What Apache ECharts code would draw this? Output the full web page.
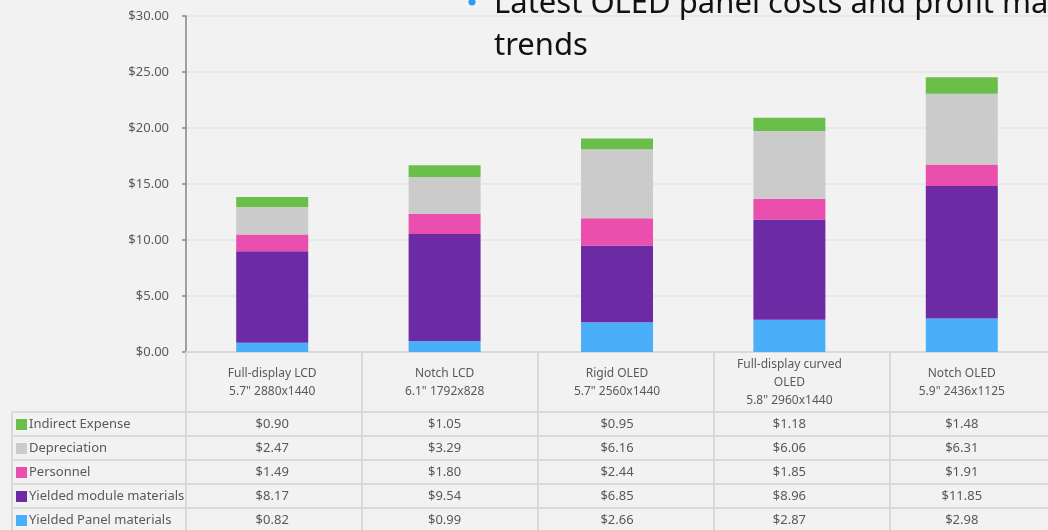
<!DOCTYPE html>
<html>
<head>
<meta charset="utf-8">
<script src="https://cdn.jsdelivr.net/npm/echarts@6/dist/echarts.min.js"></script>
<style>
html,body{margin:0;padding:0;background:#f2f2f2;}
#c{width:1048px;height:530px;}
</style>
</head>
<body>
<div id="c"></div>
<script>
const categories = ['Full-display LCD\n5.7" 2880x1440', 'Notch LCD\n6.1" 1792x828', 'Rigid OLED\n5.7" 2560x1440', 'Full-display curved\nOLED\n5.8" 2960x1440', 'Notch OLED\n5.9" 2436x1125'];
const indirectExpense = [0.90, 1.05, 0.95, 1.18, 1.48];
const depreciation = [2.47, 3.29, 6.16, 6.06, 6.31];
const personnel = [1.49, 1.80, 2.44, 1.85, 1.91];
const yieldedModule = [8.17, 9.54, 6.85, 8.96, 11.85];
const yieldedPanel = [0.82, 0.99, 2.66, 2.87, 2.98];
const seriesNames = ['Indirect Expense', 'Depreciation', 'Personnel', 'Yielded module materials', 'Yielded Panel materials'];
const seriesColors = ['#6abf4b', '#cbcbcb', '#ea4fae', '#6d2aa5', '#4aaef9'];
const titleLine1 = 'Latest OLED panel costs and profit margin';
const titleLine2 = 'trends';
const yMin = 0, yMax = 30, yStep = 5;

const rows = [indirectExpense, depreciation, personnel, yieldedModule, yieldedPanel];

const G = {left: 186, top: 16, colW: 176, height: 336};
const gridW = G.colW * categories.length;
const axisY = G.top + G.height;      // 352
const headerH = 60;
const rowH = 24;
const tableTop = axisY + headerH;    // 412
const tableLeft = 12;
const textColor = '#595959';
const lineColor = '#d9d9d9';
const font = '"Noto Sans", sans-serif';

const chart = echarts.init(document.getElementById('c'));

const xAxes = [{
  type: 'category', gridIndex: 0, data: categories, position: 'bottom',
  axisLine: {show: true, lineStyle: {color: lineColor, width: 2}},
  axisTick: {show: false},
  axisLabel: {color: textColor, fontSize: 12, fontFamily: font, lineHeight: 18, margin: headerH / 2 + 1, verticalAlign: 'middle', interval: 0}
}];
rows.forEach((vals, r) => {
  xAxes.push({
    type: 'category', gridIndex: 0, data: categories, position: 'bottom',
    offset: headerH + rowH * r + rowH / 2,
    axisLine: {show: false}, axisTick: {show: false}, splitLine: {show: false},
    axisLabel: {color: textColor, fontSize: 13, fontFamily: font, margin: 0, verticalAlign: 'middle', interval: 0,
      formatter: (v, i) => '$' + vals[i].toFixed(2)}
  });
});

const stackOrder = [4, 3, 2, 1, 0];
const series = stackOrder.map(k => ({
  name: seriesNames[k], type: 'bar', stack: 'cost', xAxisIndex: 0, yAxisIndex: 0,
  data: rows[k], barWidth: 72,
  itemStyle: {color: seriesColors[k]},
  emphasis: {disabled: true}
}));

const graphics = [];
// table borders
const bottom = 532;
for (let i = 0; i <= categories.length; i++) {
  const x = G.left + G.colW * i;
  graphics.push({type: 'line', shape: {x1: x, y1: axisY, x2: x, y2: bottom}, style: {stroke: lineColor, lineWidth: 2}, z: 1});
}
graphics.push({type: 'line', shape: {x1: tableLeft, y1: tableTop, x2: tableLeft, y2: bottom}, style: {stroke: lineColor, lineWidth: 2}, z: 1});
for (let r = 0; r <= rows.length; r++) {
  const y = tableTop + rowH * r;
  graphics.push({type: 'line', shape: {x1: tableLeft, y1: y, x2: G.left + gridW, y2: y}, style: {stroke: lineColor, lineWidth: 2}, z: 1});
}
// legend column
seriesNames.forEach((n, r) => {
  const cy = tableTop + rowH * r + rowH / 2;
  graphics.push({type: 'rect', shape: {x: 16, y: cy - 5, width: 11, height: 11}, style: {fill: seriesColors[r]}, z: 2});
  graphics.push({type: 'text', x: 29, y: cy, style: {text: n, fill: textColor, font: '13px ' + font, verticalAlign: 'middle', align: 'left'}, z: 2});
});
// title overlay
graphics.push({type: 'circle', shape: {cx: 472, cy: 2, r: 3.5}, style: {fill: '#2d9cf5'}, z: 10});
graphics.push({type: 'text', x: 494, y: 20, style: {text: titleLine1, fill: '#111', font: '31px ' + font, verticalAlign: 'bottom', align: 'left'}, z: 10});
graphics.push({type: 'text', x: 494, y: 62, style: {text: titleLine2, fill: '#111', font: '31px ' + font, verticalAlign: 'bottom', align: 'left'}, z: 10});

chart.setOption({
  backgroundColor: '#f2f2f2',
  animation: false,
  grid: [{left: G.left, top: G.top, width: gridW, height: G.height, containLabel: false}],
  xAxis: xAxes,
  yAxis: [{
    type: 'value', gridIndex: 0, min: yMin, max: yMax, interval: yStep,
    axisLine: {show: true, lineStyle: {color: '#858585', width: 1.5}},
    axisTick: {show: true, length: 4, lineStyle: {color: '#858585', width: 1.5}},
    axisLabel: {color: textColor, fontSize: 13, fontFamily: font, margin: 17, formatter: v => '$' + v.toFixed(2)},
    splitLine: {show: true, lineStyle: {color: '#e4e4e4', width: 1.5}}
  }],
  series: series,
  graphic: graphics
});
</script>
</body>
</html>
